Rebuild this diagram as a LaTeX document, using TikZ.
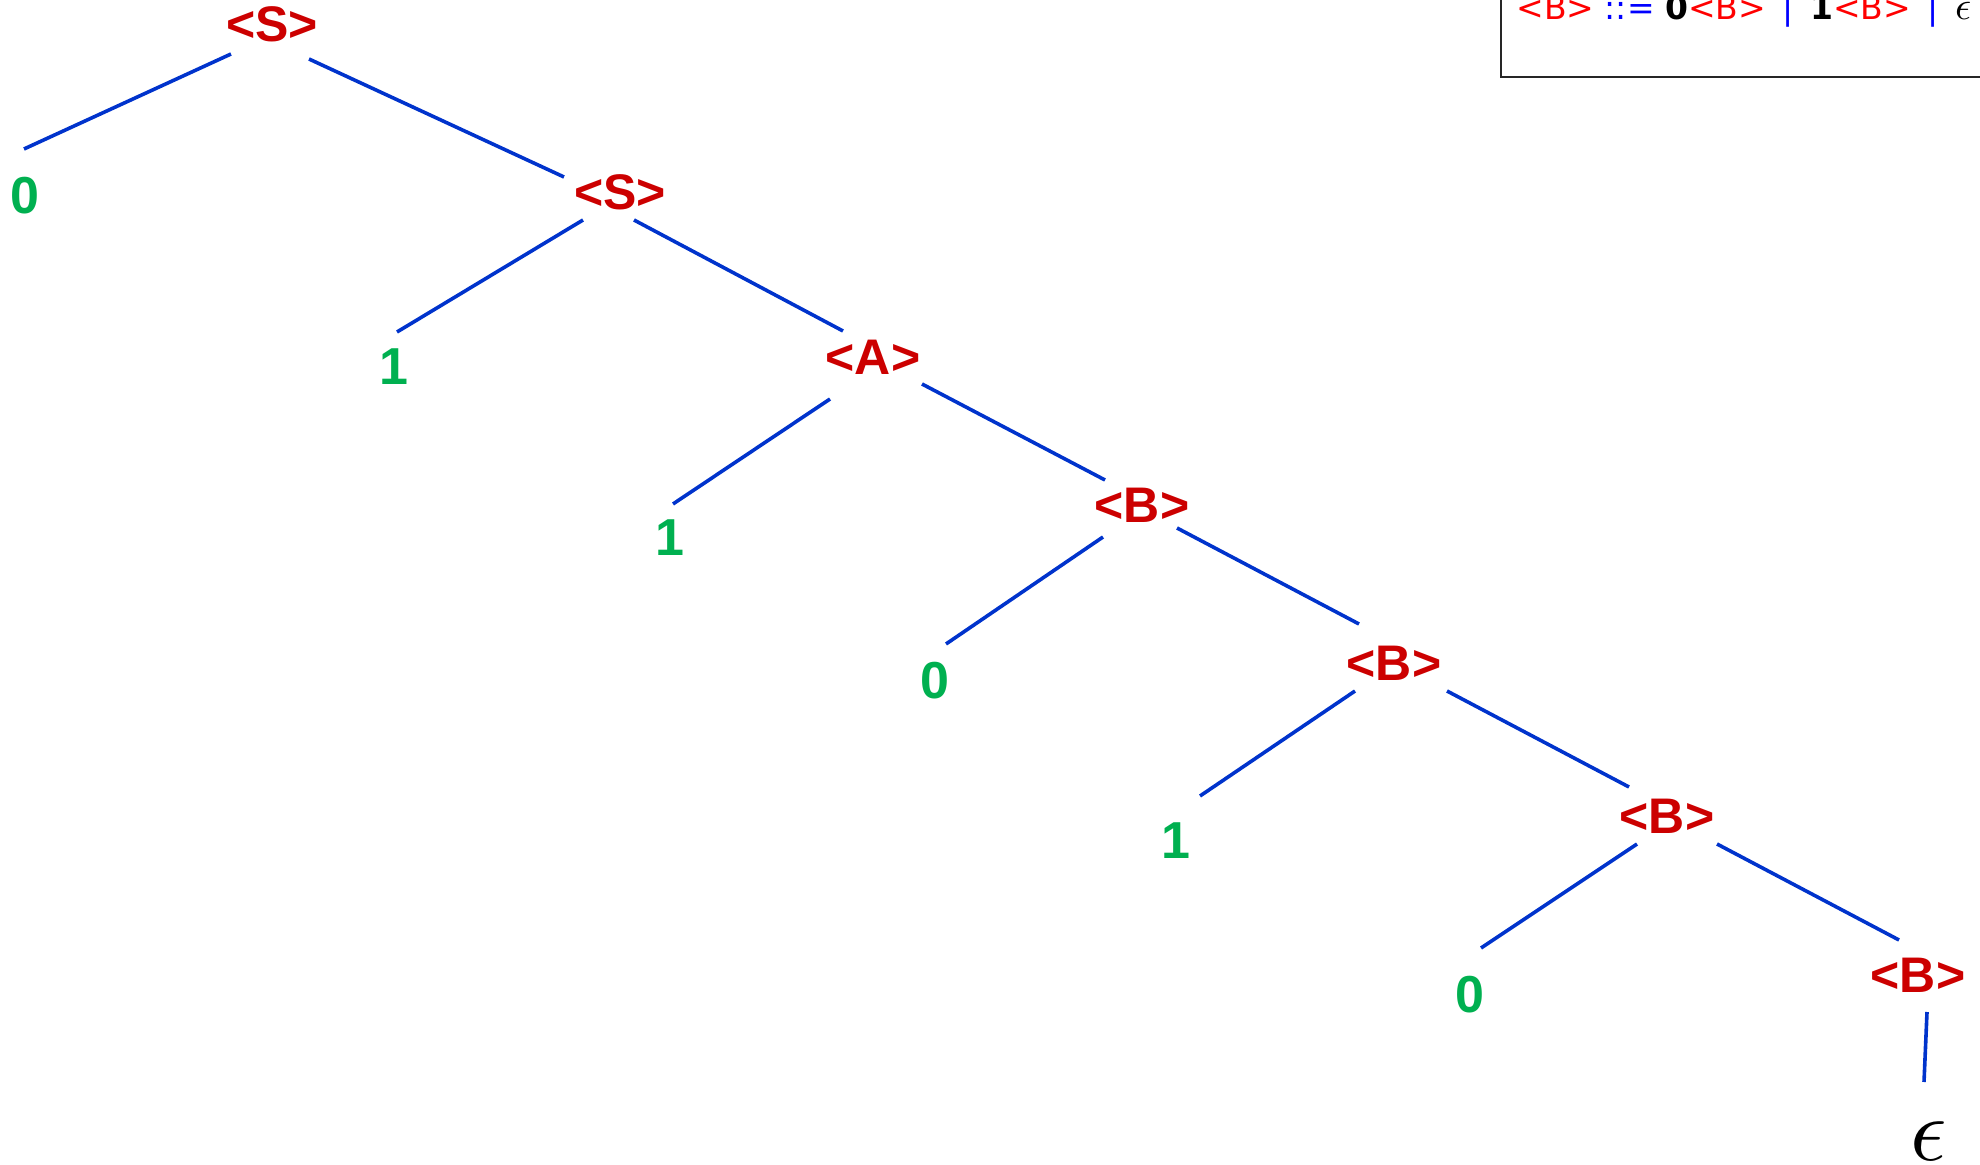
\documentclass[tikz,border=0pt]{standalone}
\usepackage{fontspec}
\setmainfont{Liberation Sans}
\newfontfamily\boxfont{DejaVu Sans}
\usetikzlibrary{calc}
\definecolor{ntred}{RGB}{204,0,0}
\definecolor{tgreen}{RGB}{0,176,80}
\definecolor{lblue}{RGB}{0,51,204}
\definecolor{bred}{RGB}{255,0,0}
\definecolor{bblue}{RGB}{0,0,255}
\newcommand{\gbar}{\ \hspace{3pt}\textcolor{bblue}{|}\hspace{3pt}\ }
\newcommand{\bigeps}[1]{{\fontsize{10}{12}\selectfont\scalebox{#1}{$\epsilon$}}}
\begin{document}
\begin{tikzpicture}[x=0.5pt,y=-0.5pt,
  nt/.style={text=ntred,font=\fontsize{25}{30}\selectfont\bfseries,inner sep=0pt},
  term/.style={text=tgreen,font=\fontsize{26}{31}\selectfont\bfseries,inner sep=0pt},
  epsnode/.style={text=black,inner sep=0pt},
  treeedge/.style={draw=lblue,line width=1.8pt},
  gbox/.style={draw=black!85,line width=0.8pt}]
\useasboundingbox (0,0) rectangle (1980,1165);
% nodes
\node[nt] (s1) at (272,24) {<S>};
\node[term] (t0a) at (25,196) {0};
\node[nt] (s2) at (620,192) {<S>};
\node[term] (t1a) at (394,367) {1};
\node[nt] (a) at (873,357) {<A>};
\node[term] (t1b) at (670,538) {1};
\node[nt] (b1) at (1142,505) {<B>};
\node[term] (t0b) at (935,681) {0};
\node[nt] (b2) at (1394,663) {<B>};
\node[term] (t1c) at (1176,841) {1};
\node[nt] (b3) at (1667,816) {<B>};
\node[term] (t0c) at (1470,995) {0};
\node[nt] (b4) at (1918,975) {<B>};
\node[epsnode] (eps) at (1929,1141) {\bigeps{4.5}};
% edges
\draw[treeedge] ($(s1)+(-41,30)$) -- ($(t0a)+(-1,-47)$);
\draw[treeedge] ($(s1)+(37,35)$) -- ($(s2)+(-56,-15)$);
\draw[treeedge] ($(s2)+(-37,28)$) -- ($(t1a)+(3,-35)$);
\draw[treeedge] ($(s2)+(14,28)$) -- ($(a)+(-30,-26)$);
\draw[treeedge] ($(a)+(-43,42)$) -- ($(t1b)+(3,-34)$);
\draw[treeedge] ($(a)+(49,27)$) -- ($(b1)+(-37,-25)$);
\draw[treeedge] ($(b1)+(-39,32)$) -- ($(t0b)+(11,-37)$);
\draw[treeedge] ($(b1)+(35,23)$) -- ($(b2)+(-35,-39)$);
\draw[treeedge] ($(b2)+(-39,28)$) -- ($(t1c)+(24,-45)$);
\draw[treeedge] ($(b2)+(53,28)$) -- ($(b3)+(-38,-29)$);
\draw[treeedge] ($(b3)+(-30,28)$) -- ($(t0c)+(11,-47)$);
\draw[treeedge] ($(b3)+(50,28)$) -- ($(b4)+(-19,-35)$);
\draw[treeedge] ($(b4)+(9,37)$) -- ($(eps)+(-5,-59)$);
% grammar box (cropped at top and right)
\draw[gbox] (1501,-30) rectangle (2040,77);
\node[anchor=base west,inner sep=0pt,font=\boxfont\fontsize{16.5}{20}\selectfont] (gram) at (1516,20)
  {\textcolor{bred}{<B>} \textcolor{bblue}{::=} \textbf{0}\textcolor{bred}{<B>}\gbar\textbf{1}\textcolor{bred}{<B>}\gbar\bigeps{2}};
\end{tikzpicture}
\end{document}
